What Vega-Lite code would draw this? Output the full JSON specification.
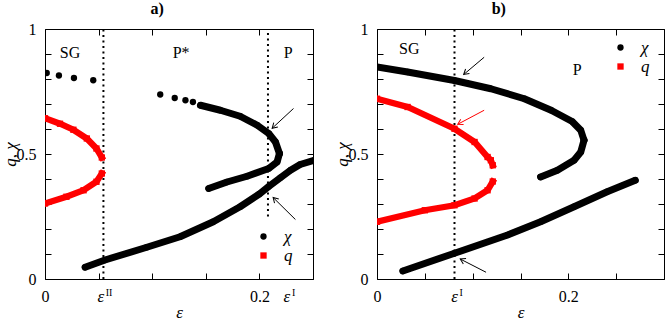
{
  "$schema": "https://vega.github.io/schema/vega-lite/v6.json",
  "padding": {"left": 0, "top": 0, "right": 0, "bottom": 0},
  "config": {
    "font": "Liberation Serif",
    "view": {"stroke": "black", "strokeWidth": 1},
    "axis": {"domain": false, "grid": false, "tickSize": 6, "offset": -6, "tickColor": "black", "tickWidth": 1,
      "labelFontSize": 16, "labelColor": "black", "labelPadding": 9, "labelFlush": false, "labelOverlap": false, "labelBound": false,
      "titleFontSize": 17, "titleColor": "black", "titleFontWeight": "normal", "titleFontStyle": "italic", "titlePadding": 0},
    "axisLeft": {"titlePadding": -3},
    "title": {"fontSize": 16, "fontWeight": "bold", "frame": "bounds", "anchor": "middle", "offset": 4, "color": "black"},
    "legend": {"padding": 0}
  },
  "datasets": {
    "curves": [
      {"panel": "a", "series": "χ", "branch": "a_sparse1", "eps": 0.0016, "val": 0.824},
      {"panel": "a", "series": "χ", "branch": "a_sparse1", "eps": 0.013, "val": 0.814},
      {"panel": "a", "series": "χ", "branch": "a_sparse1", "eps": 0.027, "val": 0.804},
      {"panel": "a", "series": "χ", "branch": "a_sparse1", "eps": 0.045, "val": 0.795},
      {"panel": "a", "series": "χ", "branch": "a_sparse2", "eps": 0.1075, "val": 0.738},
      {"panel": "a", "series": "χ", "branch": "a_sparse2", "eps": 0.121, "val": 0.724},
      {"panel": "a", "series": "χ", "branch": "a_sparse2", "eps": 0.131, "val": 0.715},
      {"panel": "a", "series": "χ", "branch": "a_sparse2", "eps": 0.138, "val": 0.708},
      {"panel": "a", "series": "χ", "branch": "a_up", "eps": 0.145, "val": 0.695},
      {"panel": "a", "series": "χ", "branch": "a_up", "eps": 0.1636, "val": 0.675},
      {"panel": "a", "series": "χ", "branch": "a_up", "eps": 0.182, "val": 0.651},
      {"panel": "a", "series": "χ", "branch": "a_up", "eps": 0.198, "val": 0.615},
      {"panel": "a", "series": "χ", "branch": "a_up", "eps": 0.2087, "val": 0.582},
      {"panel": "a", "series": "χ", "branch": "a_up", "eps": 0.215, "val": 0.548},
      {"panel": "a", "series": "χ", "branch": "a_up", "eps": 0.2187, "val": 0.502},
      {"panel": "a", "series": "χ", "branch": "a_lo", "eps": 0.2187, "val": 0.502},
      {"panel": "a", "series": "χ", "branch": "a_lo", "eps": 0.2165, "val": 0.468},
      {"panel": "a", "series": "χ", "branch": "a_lo", "eps": 0.2087, "val": 0.442},
      {"panel": "a", "series": "χ", "branch": "a_lo", "eps": 0.1885, "val": 0.411},
      {"panel": "a", "series": "χ", "branch": "a_lo", "eps": 0.1698, "val": 0.388},
      {"panel": "a", "series": "χ", "branch": "a_lo", "eps": 0.1527, "val": 0.362},
      {"panel": "a", "series": "χ", "branch": "a_st", "eps": 0.0374, "val": 0.047},
      {"panel": "a", "series": "χ", "branch": "a_st", "eps": 0.056, "val": 0.076},
      {"panel": "a", "series": "χ", "branch": "a_st", "eps": 0.095, "val": 0.127},
      {"panel": "a", "series": "χ", "branch": "a_st", "eps": 0.126, "val": 0.169},
      {"panel": "a", "series": "χ", "branch": "a_st", "eps": 0.157, "val": 0.229},
      {"panel": "a", "series": "χ", "branch": "a_st", "eps": 0.182, "val": 0.289},
      {"panel": "a", "series": "χ", "branch": "a_st", "eps": 0.2, "val": 0.34},
      {"panel": "a", "series": "χ", "branch": "a_st", "eps": 0.2087, "val": 0.37},
      {"panel": "a", "series": "χ", "branch": "a_st", "eps": 0.2196, "val": 0.405},
      {"panel": "a", "series": "χ", "branch": "a_st", "eps": 0.229, "val": 0.435},
      {"panel": "a", "series": "χ", "branch": "a_st", "eps": 0.238, "val": 0.458},
      {"panel": "a", "series": "χ", "branch": "a_st", "eps": 0.251, "val": 0.475},
      {"panel": "a", "series": "q", "branch": "a_q1", "eps": 0, "val": 0.643},
      {"panel": "a", "series": "q", "branch": "a_q1", "eps": 0.014, "val": 0.621},
      {"panel": "a", "series": "q", "branch": "a_q1", "eps": 0.0265, "val": 0.597},
      {"panel": "a", "series": "q", "branch": "a_q1", "eps": 0.039, "val": 0.562},
      {"panel": "a", "series": "q", "branch": "a_q1", "eps": 0.048, "val": 0.522},
      {"panel": "a", "series": "q", "branch": "a_q1", "eps": 0.053, "val": 0.486},
      {"panel": "a", "series": "q", "branch": "a_q2", "eps": 0, "val": 0.302},
      {"panel": "a", "series": "q", "branch": "a_q2", "eps": 0.02, "val": 0.329},
      {"panel": "a", "series": "q", "branch": "a_q2", "eps": 0.036, "val": 0.355},
      {"panel": "a", "series": "q", "branch": "a_q2", "eps": 0.048, "val": 0.389},
      {"panel": "a", "series": "q", "branch": "a_q2", "eps": 0.053, "val": 0.422},
      {"panel": "b", "series": "χ", "branch": "b_up", "eps": 0, "val": 0.848},
      {"panel": "b", "series": "χ", "branch": "b_up", "eps": 0.032, "val": 0.828},
      {"panel": "b", "series": "χ", "branch": "b_up", "eps": 0.081, "val": 0.794},
      {"panel": "b", "series": "χ", "branch": "b_up", "eps": 0.119, "val": 0.761},
      {"panel": "b", "series": "χ", "branch": "b_up", "eps": 0.154, "val": 0.721},
      {"panel": "b", "series": "χ", "branch": "b_up", "eps": 0.182, "val": 0.675},
      {"panel": "b", "series": "χ", "branch": "b_up", "eps": 0.204, "val": 0.63},
      {"panel": "b", "series": "χ", "branch": "b_up", "eps": 0.213, "val": 0.595},
      {"panel": "b", "series": "χ", "branch": "b_up", "eps": 0.2164, "val": 0.555},
      {"panel": "b", "series": "χ", "branch": "b_lo", "eps": 0.2164, "val": 0.555},
      {"panel": "b", "series": "χ", "branch": "b_lo", "eps": 0.213, "val": 0.508},
      {"panel": "b", "series": "χ", "branch": "b_lo", "eps": 0.206, "val": 0.475},
      {"panel": "b", "series": "χ", "branch": "b_lo", "eps": 0.1886, "val": 0.435},
      {"panel": "b", "series": "χ", "branch": "b_lo", "eps": 0.171, "val": 0.408},
      {"panel": "b", "series": "χ", "branch": "b_st", "eps": 0.027, "val": 0.032},
      {"panel": "b", "series": "χ", "branch": "b_st", "eps": 0.081, "val": 0.103},
      {"panel": "b", "series": "χ", "branch": "b_st", "eps": 0.1365, "val": 0.176},
      {"panel": "b", "series": "χ", "branch": "b_st", "eps": 0.171, "val": 0.229},
      {"panel": "b", "series": "χ", "branch": "b_st", "eps": 0.206, "val": 0.289},
      {"panel": "b", "series": "χ", "branch": "b_st", "eps": 0.2406, "val": 0.349},
      {"panel": "b", "series": "χ", "branch": "b_st", "eps": 0.27, "val": 0.395},
      {"panel": "b", "series": "q", "branch": "b_q1", "eps": 0, "val": 0.721},
      {"panel": "b", "series": "q", "branch": "b_q1", "eps": 0.032, "val": 0.688},
      {"panel": "b", "series": "q", "branch": "b_q1", "eps": 0.081, "val": 0.601},
      {"panel": "b", "series": "q", "branch": "b_q1", "eps": 0.102, "val": 0.548},
      {"panel": "b", "series": "q", "branch": "b_q1", "eps": 0.1156, "val": 0.488},
      {"panel": "b", "series": "q", "branch": "b_q1", "eps": 0.119, "val": 0.475},
      {"panel": "b", "series": "q", "branch": "b_q1", "eps": 0.121, "val": 0.455},
      {"panel": "b", "series": "q", "branch": "b_q2", "eps": 0, "val": 0.229},
      {"panel": "b", "series": "q", "branch": "b_q2", "eps": 0.05, "val": 0.275},
      {"panel": "b", "series": "q", "branch": "b_q2", "eps": 0.081, "val": 0.295},
      {"panel": "b", "series": "q", "branch": "b_q2", "eps": 0.102, "val": 0.322},
      {"panel": "b", "series": "q", "branch": "b_q2", "eps": 0.1156, "val": 0.355},
      {"panel": "b", "series": "q", "branch": "b_q2", "eps": 0.121, "val": 0.39}
    ],
    "vlines": [
      {"panel": "a", "eps": 0.0545, "lo": 0, "hi": 1},
      {"panel": "a", "eps": 0.208, "lo": 0.25, "hi": 1},
      {"panel": "b", "eps": 0.081, "lo": 0, "hi": 1}
    ],
    "arrows": [
      {"panel": "a", "id": "a1", "series": "χ", "eps": 0.2318, "val": 0.682, "eps2": 0.2119, "val2": 0.603},
      {"panel": "a", "id": "a2", "series": "χ", "eps": 0.2336, "val": 0.238, "eps2": 0.2128, "val2": 0.326},
      {"panel": "b", "id": "b1", "series": "χ", "eps": 0.112, "val": 0.887, "eps2": 0.0906, "val2": 0.818},
      {"panel": "b", "id": "b2", "series": "q", "eps": 0.112, "val": 0.675, "eps2": 0.0844, "val2": 0.619},
      {"panel": "b", "id": "b3", "series": "χ", "eps": 0.114, "val": 0.027, "eps2": 0.087, "val2": 0.08}
    ],
    "regions": [
      {"panel": "a", "text": "SG", "eps": 0.0234, "val": 0.905},
      {"panel": "a", "text": "P*", "eps": 0.127, "val": 0.905},
      {"panel": "a", "text": "P", "eps": 0.2268, "val": 0.905},
      {"panel": "b", "text": "SG", "eps": 0.0337, "val": 0.921},
      {"panel": "b", "text": "P", "eps": 0.2094, "val": 0.836}
    ],
    "elabels": [
      {"panel": "a", "sup": "II", "eps": 0.052},
      {"panel": "a", "sup": "I", "eps": 0.2257},
      {"panel": "b", "sup": "I", "eps": 0.081}
    ]
  },
  "spacing": 18,
  "resolve": {
    "scale": {"x": "independent", "y": "independent", "fill": "independent", "shape": "independent", "stroke": "independent"},
    "legend": {"fill": "independent", "shape": "independent"}
  },
  "hconcat": [
    {
      "width": 268, "height": 250,
      "title": {"text": "a)"},
      "resolve": {"axis": {"x": "independent", "y": "independent"}},
      "layer": [
        {
          "data": {"name": "vlines"},
          "transform": [{"filter": "datum.panel == 'a'"}],
          "mark": {"type": "rule", "strokeDash": [2, 3.5], "strokeWidth": 2, "color": "black"},
          "encoding": {
            "x": {"field": "eps", "type": "quantitative", "scale": {"domain": [0, 0.25], "nice": false},
              "axis": {"orient": "bottom", "values": [0, 0.05, 0.1, 0.15, 0.2, 0.25], "labelExpr": "datum.value == 0 ? '0' : (datum.value == 0.2 ? '0.2' : '')", "title": "ε"}},
            "y": {"field": "lo", "type": "quantitative", "scale": {"domain": [0, 1], "nice": false},
              "axis": {"orient": "left", "values": [0, 0.1, 0.2, 0.3, 0.4, 0.5, 0.6, 0.7, 0.8, 0.9, 1], "labelExpr": "datum.value == 0 ? '0' : (datum.value == 0.5 ? '0.5' : (datum.value == 1 ? '1' : ''))", "title": "q, χ"}},
            "y2": {"field": "hi"}
          }
        },
        {
          "data": {"name": "curves"},
          "transform": [{"filter": "datum.panel == 'a' && datum.series == 'χ' && indexof(datum.branch, 'sparse') < 0"}],
          "mark": {"type": "line", "color": "black", "strokeWidth": 7, "strokeCap": "round", "strokeJoin": "round", "clip": true},
          "encoding": {
            "x": {"field": "eps", "type": "quantitative", "scale": {"domain": [0, 0.25], "nice": false},
              "axis": {"orient": "top", "values": [0, 0.05, 0.1, 0.15, 0.2, 0.25], "labels": false, "title": null}},
            "y": {"field": "val", "type": "quantitative", "scale": {"domain": [0, 1], "nice": false},
              "axis": {"orient": "right", "values": [0, 0.1, 0.2, 0.3, 0.4, 0.5, 0.6, 0.7, 0.8, 0.9, 1], "labels": false, "title": null}},
            "detail": {"field": "branch"}
          }
        },
        {
          "data": {"name": "curves"},
          "transform": [{"filter": "datum.panel == 'a' && datum.series == 'q'"}],
          "mark": {"type": "line", "color": "#ff0000", "strokeWidth": 6.3, "strokeCap": "square", "clip": true},
          "encoding": {
            "x": {"field": "eps", "type": "quantitative", "axis": null},
            "y": {"field": "val", "type": "quantitative", "axis": null},
            "detail": {"field": "branch"}
          }
        },
        {
          "data": {"name": "curves"},
          "transform": [{"filter": "datum.panel == 'a'"}],
          "mark": {"type": "point", "filled": true, "size": 40, "opacity": 1, "clip": true},
          "encoding": {
            "x": {"field": "eps", "type": "quantitative", "axis": null},
            "y": {"field": "val", "type": "quantitative", "axis": null},
            "fill": {"field": "series", "type": "nominal", "scale": {"domain": ["χ", "q"], "range": ["black", "#ff0000"]},
              "legend": {"title": null, "orient": "none", "legendX": 210, "legendY": 199, "labelFontSize": 17, "labelFontStyle": "italic", "labelColor": "black", "symbolSize": 40, "labelOffset": 12, "rowPadding": 1, "symbolStrokeWidth": 0}},
            "shape": {"field": "series", "type": "nominal", "scale": {"domain": ["χ", "q"], "range": ["circle", "square"]},
              "legend": {"title": null, "orient": "none", "legendX": 210, "legendY": 199, "labelFontSize": 17, "labelFontStyle": "italic", "labelColor": "black", "symbolSize": 40, "labelOffset": 12, "rowPadding": 1, "symbolStrokeWidth": 0}}
          }
        },
        {
          "data": {"name": "arrows"},
          "transform": [{"filter": "datum.panel == 'a'"}],
          "mark": {"type": "rule", "strokeWidth": 1},
          "encoding": {
            "x": {"field": "eps", "type": "quantitative", "axis": null},
            "y": {"field": "val", "type": "quantitative", "axis": null},
            "x2": {"field": "eps2"},
            "y2": {"field": "val2"},
            "stroke": {"field": "series", "type": "nominal", "scale": {"domain": ["χ", "q"], "range": ["black", "#ff0000"]}, "legend": null}
          }
        },
        {
          "data": {"name": "arrows"},
          "transform": [{"filter": "datum.id == 'a1'"}],
          "mark": {"type": "point", "shape": "M-1,-0.6L0,0L-1,0.6", "filled": false, "size": 100, "strokeWidth": 1, "angle": 137, "color": "black", "opacity": 1},
          "encoding": {
            "x": {"field": "eps2", "type": "quantitative", "axis": null},
            "y": {"field": "val2", "type": "quantitative", "axis": null}
          }
        },
        {
          "data": {"name": "arrows"},
          "transform": [{"filter": "datum.id == 'a2'"}],
          "mark": {"type": "point", "shape": "M-1,-0.6L0,0L-1,0.6", "filled": false, "size": 100, "strokeWidth": 1, "angle": 225, "color": "black", "opacity": 1},
          "encoding": {
            "x": {"field": "eps2", "type": "quantitative", "axis": null},
            "y": {"field": "val2", "type": "quantitative", "axis": null}
          }
        },
        {
          "data": {"name": "regions"},
          "transform": [{"filter": "datum.panel == 'a'"}],
          "mark": {"type": "text", "fontSize": 16, "align": "center", "baseline": "middle", "color": "black"},
          "encoding": {
            "x": {"field": "eps", "type": "quantitative", "axis": null},
            "y": {"field": "val", "type": "quantitative", "axis": null},
            "text": {"field": "text"}
          }
        },
        {
          "data": {"name": "elabels"},
          "transform": [{"filter": "datum.panel == 'a'"}],
          "mark": {"type": "text", "text": "ε", "fontSize": 17, "fontStyle": "italic", "align": "center", "baseline": "alphabetic", "color": "black"},
          "encoding": {
            "x": {"field": "eps", "type": "quantitative", "axis": null},
            "y": {"datum": -0.092, "type": "quantitative", "axis": null}
          }
        },
        {
          "data": {"name": "elabels"},
          "transform": [{"filter": "datum.panel == 'a'"}],
          "mark": {"type": "text", "fontSize": 10, "align": "left", "baseline": "alphabetic", "dx": 5, "dy": -6, "color": "black"},
          "encoding": {
            "x": {"field": "eps", "type": "quantitative", "axis": null},
            "y": {"datum": -0.092, "type": "quantitative", "axis": null},
            "text": {"field": "sup"}
          }
        }
      ]
    },
    {
      "width": 287, "height": 250,
      "title": {"text": "b)"},
      "resolve": {"axis": {"x": "independent", "y": "independent"}},
      "layer": [
        {
          "data": {"name": "vlines"},
          "transform": [{"filter": "datum.panel == 'b'"}],
          "mark": {"type": "rule", "strokeDash": [2, 3.5], "strokeWidth": 2, "color": "black"},
          "encoding": {
            "x": {"field": "eps", "type": "quantitative", "scale": {"domain": [0, 0.3], "nice": false},
              "axis": {"orient": "bottom", "values": [0, 0.05, 0.1, 0.15, 0.2, 0.25, 0.3], "labelExpr": "datum.value == 0 ? '0' : (datum.value == 0.2 ? '0.2' : '')", "title": "ε"}},
            "y": {"field": "lo", "type": "quantitative", "scale": {"domain": [0, 1], "nice": false},
              "axis": {"orient": "left", "values": [0, 0.1, 0.2, 0.3, 0.4, 0.5, 0.6, 0.7, 0.8, 0.9, 1], "labelExpr": "datum.value == 0 ? '0' : (datum.value == 0.5 ? '0.5' : (datum.value == 1 ? '1' : ''))", "title": "q, χ"}},
            "y2": {"field": "hi"}
          }
        },
        {
          "data": {"name": "curves"},
          "transform": [{"filter": "datum.panel == 'b' && datum.series == 'χ'"}],
          "mark": {"type": "line", "color": "black", "strokeWidth": 7, "strokeCap": "round", "strokeJoin": "round", "clip": true},
          "encoding": {
            "x": {"field": "eps", "type": "quantitative", "scale": {"domain": [0, 0.3], "nice": false},
              "axis": {"orient": "top", "values": [0, 0.05, 0.1, 0.15, 0.2, 0.25, 0.3], "labels": false, "title": null}},
            "y": {"field": "val", "type": "quantitative", "scale": {"domain": [0, 1], "nice": false},
              "axis": {"orient": "right", "values": [0, 0.1, 0.2, 0.3, 0.4, 0.5, 0.6, 0.7, 0.8, 0.9, 1], "labels": false, "title": null}},
            "detail": {"field": "branch"}
          }
        },
        {
          "data": {"name": "curves"},
          "transform": [{"filter": "datum.panel == 'b' && datum.series == 'q'"}],
          "mark": {"type": "line", "color": "#ff0000", "strokeWidth": 6.3, "strokeCap": "square", "clip": true},
          "encoding": {
            "x": {"field": "eps", "type": "quantitative", "axis": null},
            "y": {"field": "val", "type": "quantitative", "axis": null},
            "detail": {"field": "branch"}
          }
        },
        {
          "data": {"name": "curves"},
          "transform": [{"filter": "datum.panel == 'b'"}],
          "mark": {"type": "point", "filled": true, "size": 40, "opacity": 1, "clip": true},
          "encoding": {
            "x": {"field": "eps", "type": "quantitative", "axis": null},
            "y": {"field": "val", "type": "quantitative", "axis": null},
            "fill": {"field": "series", "type": "nominal", "scale": {"domain": ["χ", "q"], "range": ["black", "#ff0000"]},
              "legend": {"title": null, "orient": "none", "legendX": 235, "legendY": 10, "labelFontSize": 17, "labelFontStyle": "italic", "labelColor": "black", "symbolSize": 40, "labelOffset": 12, "rowPadding": 1, "symbolStrokeWidth": 0}},
            "shape": {"field": "series", "type": "nominal", "scale": {"domain": ["χ", "q"], "range": ["circle", "square"]},
              "legend": {"title": null, "orient": "none", "legendX": 235, "legendY": 10, "labelFontSize": 17, "labelFontStyle": "italic", "labelColor": "black", "symbolSize": 40, "labelOffset": 12, "rowPadding": 1, "symbolStrokeWidth": 0}}
          }
        },
        {
          "data": {"name": "arrows"},
          "transform": [{"filter": "datum.panel == 'b'"}],
          "mark": {"type": "rule", "strokeWidth": 1},
          "encoding": {
            "x": {"field": "eps", "type": "quantitative", "axis": null},
            "y": {"field": "val", "type": "quantitative", "axis": null},
            "x2": {"field": "eps2"},
            "y2": {"field": "val2"},
            "stroke": {"field": "series", "type": "nominal", "scale": {"domain": ["χ", "q"], "range": ["black", "#ff0000"]}, "legend": null}
          }
        },
        {
          "data": {"name": "arrows"},
          "transform": [{"filter": "datum.id == 'b1'"}],
          "mark": {"type": "point", "shape": "M-1,-0.6L0,0L-1,0.6", "filled": false, "size": 100, "strokeWidth": 1, "angle": 140, "color": "black", "opacity": 1},
          "encoding": {
            "x": {"field": "eps2", "type": "quantitative", "axis": null},
            "y": {"field": "val2", "type": "quantitative", "axis": null}
          }
        },
        {
          "data": {"name": "arrows"},
          "transform": [{"filter": "datum.id == 'b2'"}],
          "mark": {"type": "point", "shape": "M-1,-0.6L0,0L-1,0.6", "filled": false, "size": 100, "strokeWidth": 1, "angle": 152, "color": "#ff0000", "opacity": 1},
          "encoding": {
            "x": {"field": "eps2", "type": "quantitative", "axis": null},
            "y": {"field": "val2", "type": "quantitative", "axis": null}
          }
        },
        {
          "data": {"name": "arrows"},
          "transform": [{"filter": "datum.id == 'b3'"}],
          "mark": {"type": "point", "shape": "M-1,-0.6L0,0L-1,0.6", "filled": false, "size": 100, "strokeWidth": 1, "angle": 207, "color": "black", "opacity": 1},
          "encoding": {
            "x": {"field": "eps2", "type": "quantitative", "axis": null},
            "y": {"field": "val2", "type": "quantitative", "axis": null}
          }
        },
        {
          "data": {"name": "regions"},
          "transform": [{"filter": "datum.panel == 'b'"}],
          "mark": {"type": "text", "fontSize": 16, "align": "center", "baseline": "middle", "color": "black"},
          "encoding": {
            "x": {"field": "eps", "type": "quantitative", "axis": null},
            "y": {"field": "val", "type": "quantitative", "axis": null},
            "text": {"field": "text"}
          }
        },
        {
          "data": {"name": "elabels"},
          "transform": [{"filter": "datum.panel == 'b'"}],
          "mark": {"type": "text", "text": "ε", "fontSize": 17, "fontStyle": "italic", "align": "center", "baseline": "alphabetic", "color": "black"},
          "encoding": {
            "x": {"field": "eps", "type": "quantitative", "axis": null},
            "y": {"datum": -0.092, "type": "quantitative", "axis": null}
          }
        },
        {
          "data": {"name": "elabels"},
          "transform": [{"filter": "datum.panel == 'b'"}],
          "mark": {"type": "text", "fontSize": 10, "align": "left", "baseline": "alphabetic", "dx": 5, "dy": -6, "color": "black"},
          "encoding": {
            "x": {"field": "eps", "type": "quantitative", "axis": null},
            "y": {"datum": -0.092, "type": "quantitative", "axis": null},
            "text": {"field": "sup"}
          }
        }
      ]
    }
  ]
}
